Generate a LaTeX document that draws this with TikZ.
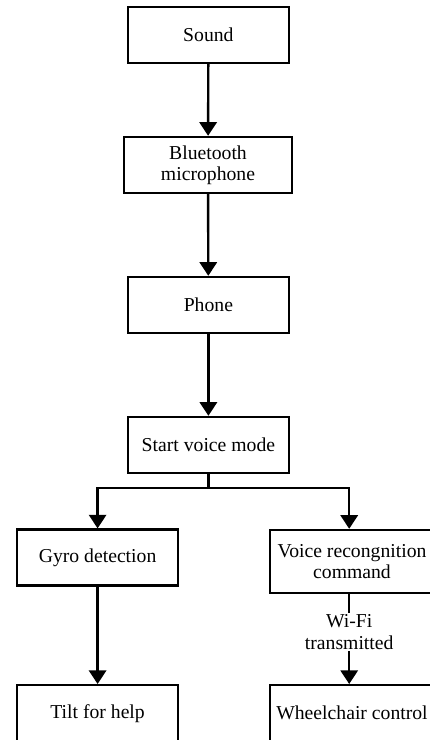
\documentclass[tikz,border=0pt]{standalone}
\usepackage{fontspec}
\setmainfont{Liberation Serif}
\usepackage{tikz}
\usetikzlibrary{arrows.meta,calc}

\begin{document}
\begin{tikzpicture}[
        box/.style={draw, line width=1.7pt, minimum width=4.03cm, minimum height=1.4cm,
            inner sep=1pt, align=center, font=\fontsize{14}{15}\selectfont},
        flow/.style={line width=1.7pt, -{Triangle[width=0.43cm,length=0.34cm]}}
    ]
        \useasboundingbox (0,0) rectangle (10.725,-18.5);

        % Main column
        \node[box] (sound) at (5.21,-0.875) {Sound};
        \node[box, minimum width=4.2cm] (mic) at (5.2,-4.125) {Bluetooth\\microphone};
        \node[box] (phone) at (5.21,-7.625) {Phone};
        \node[box] (start) at (5.21,-11.125) {Start voice mode};

        % Left branch
        \node[box] (gyro) at (2.44,-13.94) {Gyro detection};
        \node[box] (tilt) at (2.44,-17.83) {Tilt for help};

        % Right branch
        \node[box, minimum width=4.1cm, minimum height=1.58cm] (voice) at (8.8,-14.04) {Voice recongnition\\command};
        \node[box, minimum width=4.1cm] (chair) at (8.8,-17.83) {Wheelchair control};

        % Arrows
        \draw[flow] (sound) -- (mic);
        \draw[flow] (mic) -- (phone);
        \draw[flow] (phone) -- (start);
        \coordinate (split) at ($(start.south)+(0,-0.35)$);
        \coordinate (vin) at ($(voice.north)+(-0.07,0)$);
        \coordinate (vout) at ($(voice.south)+(-0.07,0)$);
        \coordinate (cin) at ($(chair.north)+(-0.07,0)$);
        \draw[flow] (start.south) -- (split) -| (gyro.north);
        \draw[flow] (split) -| (vin);
        \draw[flow] (gyro) -- (tilt);
        \draw[flow] (vout) -- node[pos=0.42, fill=white, inner sep=1pt, align=center,
            font=\fontsize{14}{16}\selectfont] (wifi) {Wi-Fi\\transmitted} (cin);
\end{tikzpicture}
\end{document}
